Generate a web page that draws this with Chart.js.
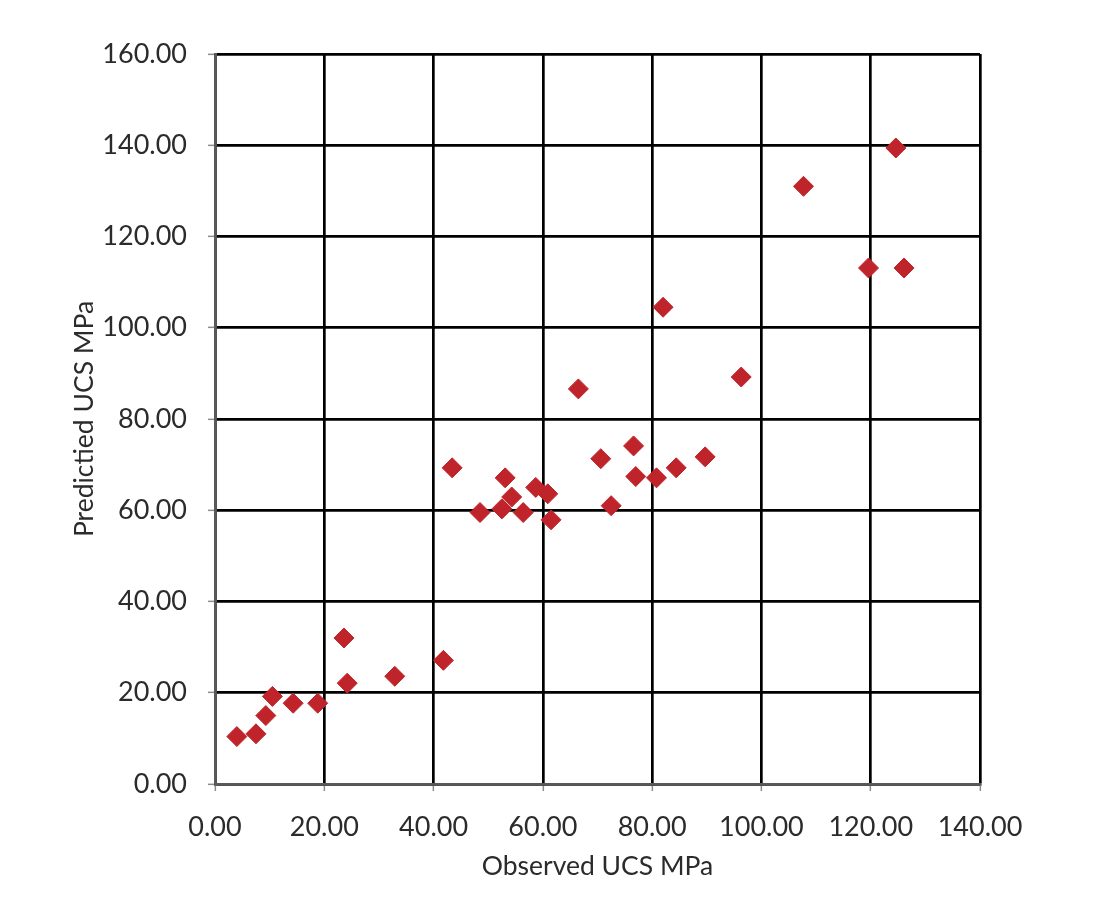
<!DOCTYPE html>
<html>
<head>
<meta charset="utf-8">
<script src="https://cdn.jsdelivr.net/npm/chart.js@4/dist/chart.umd.min.js"></script>
<style>
  html, body { margin: 0; padding: 0; background: #fff; }
  #wrap { width: 1100px; height: 900px; }
</style>
</head>
<body>
<div id="wrap"><canvas id="ucsChart" width="1100" height="900"></canvas></div>
<script>
/* Observed vs predicted UCS (MPa) */
const observed = [
  4.0, 7.5, 9.3, 10.5, 14.3, 18.8, 23.6, 24.2, 32.9, 41.8,
  43.4, 48.5, 52.5, 53.1, 54.3, 56.4, 58.7, 60.9, 61.5, 66.5,
  70.6, 72.5, 76.6, 77.0, 80.8, 84.4, 89.7, 96.3, 82.0, 107.7,
  119.6, 126.1, 124.6
];
const predicted = [
  10.4, 11.0, 15.0, 19.2, 17.7, 17.7, 32.0, 22.1, 23.6, 27.1,
  69.3, 59.5, 60.3, 67.1, 62.9, 59.5, 65.0, 63.6, 57.9, 86.6,
  71.3, 61.0, 74.1, 67.4, 67.1, 69.3, 71.7, 89.2, 104.5, 131.0,
  113.1, 113.1, 139.4
];
const xTicks = [0, 20, 40, 60, 80, 100, 120, 140];
const yTicks = [0, 20, 40, 60, 80, 100, 120, 140, 160];

const FONT = "Lato, 'Open Sans', sans-serif";
const TEXT = '#2b2b2b';

const points = observed.map((x, i) => ({ x, y: predicted[i] }));

new Chart(document.getElementById('ucsChart'), {
  type: 'scatter',
  data: {
    datasets: [{
      data: points,
      pointStyle: 'rectRot',
      pointRadius: 10,
      pointHoverRadius: 10,
      backgroundColor: '#C0242B',
      borderColor: '#C0242B',
      borderWidth: 1,
    }],
  },
  options: {
    responsive: false,
    animation: false,
    devicePixelRatio: 1,
    layout: { padding: { left: 0, right: 120, top: 54, bottom: 0 } },
    plugins: { legend: { display: false }, tooltip: { enabled: false } },
    scales: {
      x: {
        type: 'linear',
        min: xTicks[0],
        max: xTicks[xTicks.length - 1],
        afterBuildTicks: (s) => { s.ticks = xTicks.map((v) => ({ value: v })); },
        afterFit: (s) => { s.height = 116; },
        grid: { color: '#000', lineWidth: 2.7, drawTicks: true, tickLength: 7, tickColor: '#8c8c8c', tickWidth: 1.5 },
        border: { color: '#595959', width: 2.7 },
        ticks: {
          padding: 20,
          color: TEXT,
          font: { family: FONT, size: 27 },
          maxRotation: 0,
          callback: (v) => Number(v).toFixed(2),
        },
        title: {
          display: true,
          text: 'Observed UCS MPa',
          color: TEXT,
          font: { family: FONT, size: 26.5 },
          padding: { top: 0, bottom: 18 },
        },
      },
      y: {
        type: 'linear',
        min: yTicks[0],
        max: yTicks[yTicks.length - 1],
        afterBuildTicks: (s) => { s.ticks = yTicks.map((v) => ({ value: v })); },
        afterFit: (s) => { s.width = 215; },
        grid: { color: '#000', lineWidth: 2.7, drawTicks: true, tickLength: 7, tickColor: '#8c8c8c', tickWidth: 1.5 },
        border: { color: '#595959', width: 2.7 },
        ticks: {
          padding: 21,
          color: TEXT,
          font: { family: FONT, size: 27 },
          callback: (v) => Number(v).toFixed(2),
        },
        title: {
          display: true,
          text: 'Predictied UCS MPa',
          color: TEXT,
          font: { family: FONT, size: 26.5 },
          padding: { top: 69, bottom: 0 },
        },
      },
    },
  },
});
</script>
</body>
</html>
